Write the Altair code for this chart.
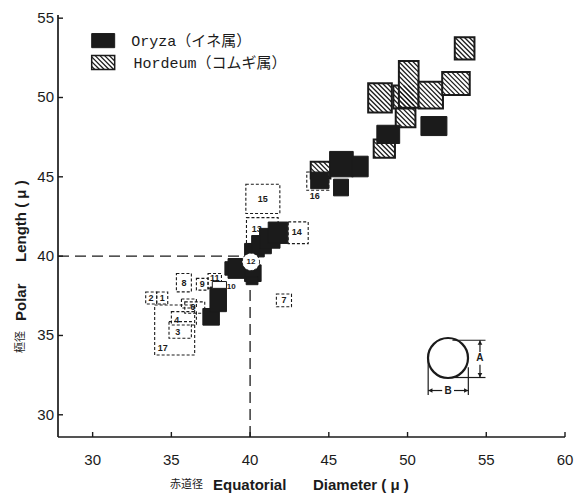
import altair as alt
import numpy as np
import pandas as pd

INK = "#1b1b1b"
SANS = "Liberation Sans, DejaVu Sans, sans-serif"
MONO = "Liberation Mono, DejaVu Sans Mono, Noto Sans CJK JP, monospace"
CJK = "Noto Sans CJK JP, sans-serif"

# ---------------- data ----------------
# Oryza (black boxes): equatorial range (x1..x2), polar range (y1..y2)
oryza_x1 = [37.0, 37.45, 38.4, 38.6, 39.65, 39.75, 39.65, 40.1, 40.6, 41.15, 43.85, 45.05, 46.45, 45.3, 48.05, 50.85]
oryza_x2 = [38.05, 38.5, 39.45, 39.85, 40.7, 40.5, 40.9, 41.35, 41.9, 42.4, 45.0, 46.55, 47.5, 46.25, 49.5, 52.5]
oryza_y1 = [35.65, 36.5, 38.8, 38.6, 38.4, 38.2, 39.95, 40.15, 40.5, 40.8, 44.25, 45.0, 45.0, 43.8, 47.1, 47.6]
oryza_y2 = [36.7, 38.05, 39.65, 39.85, 39.45, 38.7, 40.8, 41.3, 41.75, 42.15, 45.3, 46.6, 46.3, 44.85, 48.25, 48.8]

# Hordeum (hatched boxes)
hord_x1 = [43.85, 47.5, 49.1, 49.25, 49.45, 50.7, 52.2, 53.0, 47.85]
hord_x2 = [45.1, 49.0, 50.4, 50.5, 50.7, 52.25, 53.95, 54.25, 49.2]
hord_y1 = [44.9, 49.05, 49.3, 48.13, 49.35, 49.3, 50.15, 52.4, 46.2]
hord_y2 = [45.95, 50.9, 50.75, 49.3, 52.3, 51.0, 51.6, 53.8, 47.35]

# Numbered reference boxes (dashed)
box_label = ["2", "1", "17", "4", "3", "", "6", "8", "9", "11", "7", "13", "14", "15", "16"]
box_x1 = [33.37, 34.07, 33.94, 35.0, 34.85, 35.64, 35.85, 35.32, 36.59, 37.33, 41.67, 39.77, 42.42, 39.73, 43.6]
box_x2 = [34.07, 34.77, 36.48, 36.59, 36.27, 36.59, 37.12, 36.27, 37.33, 38.18, 42.63, 41.78, 43.69, 41.89, 45.0]
box_y1 = [36.98, 36.98, 33.77, 35.66, 34.82, 36.73, 36.4, 37.75, 37.86, 37.97, 36.81, 40.79, 40.79, 42.69, 44.15]
box_y2 = [37.74, 37.74, 36.92, 36.5, 35.87, 37.3, 37.12, 38.91, 38.6, 38.91, 37.61, 42.43, 42.16, 44.53, 45.3]
label_x = [33.7, 34.42, 34.45, 35.34, 35.4, 36.1, 36.36, 35.8, 36.96, 37.76, 42.15, 40.43, 42.97, 40.81, 44.11]
label_y = [37.36, 37.36, 34.2, 35.97, 35.22, 37.0, 36.79, 38.33, 38.23, 38.6, 37.21, 41.7, 41.5, 43.61, 43.77]

x_ticks = [30, 35, 40, 45, 50, 55, 60]
y_ticks = [30, 35, 40, 45, 50, 55]
legend_labels = ["Oryza（イネ属）", "Hordeum（コムギ属）"]

# ---------------- layout ----------------
X_DOMAIN = [27.8, 60]
Y_DOMAIN = [28.6, 55.2]
W, H = 507, 422
xs = alt.Scale(domain=X_DOMAIN, nice=False, zero=False)
ys = alt.Scale(domain=Y_DOMAIN, nice=False, zero=False)

oryza = pd.DataFrame({"x1": oryza_x1, "x2": oryza_x2, "y1": oryza_y1, "y2": oryza_y2})
hord = pd.DataFrame({"x1": hord_x1, "x2": hord_x2, "y1": hord_y1, "y2": hord_y2})
boxes = pd.DataFrame({"x1": box_x1, "x2": box_x2, "y1": box_y1, "y2": box_y2,
                      "lab": box_label, "lx": label_x, "ly": label_y})

# legend swatches (data units)
leg = pd.DataFrame({"x1": [29.94, 29.94], "x2": [31.4, 31.4], "y1": [53.14, 51.76],
                    "y2": [54.03, 52.64], "kind": ["o", "h"],
                    "tx": [32.45, 32.6], "ty": [53.59, 52.2], "t": legend_labels})


def hatch(rects, d=0.3):
    segs = []
    for x1, x2, y1, y2 in rects:
        k0 = int(np.ceil((x1 + y1) / d))
        k1 = int(np.floor((x2 + y2) / d))
        for k in range(k0, k1 + 1):
            c = k * d
            xa = max(x1, c - y2)
            xb = min(x2, c - y1)
            if xb - xa > 0.02:
                segs.append({"x": xa, "y": c - xa, "x2": xb, "y2": c - xb})
    return pd.DataFrame(segs)


legh = leg[leg.kind == "h"]
hatch_rects = list(zip(hord_x1, hord_x2, hord_y1, hord_y2)) + \
    list(zip(legh.x1, legh.x2, legh.y1, legh.y2))
hatch_df = hatch(hatch_rects)


def X(f):
    return alt.X(f, type="quantitative", scale=xs, axis=None)


def Y(f):
    return alt.Y(f, type="quantitative", scale=ys, axis=None)


# reference dashed lines at 40 / 40
ref = pd.DataFrame({"x": [X_DOMAIN[0], 40.0], "x2": [39.6, 40.0], "y": [40.0, Y_DOMAIN[0]], "y2": [40.0, 38.3]})
ref_layer = alt.Chart(ref).mark_rule(color=INK, strokeWidth=1.3, strokeDash=[11, 6]).encode(
    x=X("x"), x2="x2", y=Y("y"), y2="y2")

# axis lines, inward ticks and tick labels
axis_df = pd.DataFrame({"v": [0]})
x_line = alt.Chart(axis_df).mark_rule(color=INK, strokeWidth=1.7).encode(
    x=alt.value(0), x2=alt.value(W), y=alt.value(H))
y_line = alt.Chart(axis_df).mark_rule(color=INK, strokeWidth=1.7).encode(
    x=alt.value(0), y=alt.value(0), y2=alt.value(H))
xt = alt.Chart(pd.DataFrame({"v": x_ticks})).mark_rule(color=INK, strokeWidth=1.4).encode(
    x=X("v"), y=alt.value(H), y2=alt.value(H - 5))
yt = alt.Chart(pd.DataFrame({"v": y_ticks})).mark_rule(color=INK, strokeWidth=1.4).encode(
    y=Y("v"), x=alt.value(0), x2=alt.value(5))
xl = alt.Chart(pd.DataFrame({"v": x_ticks})).mark_text(
    font=SANS, fontSize=15, color=INK, baseline="middle", align="center").encode(
    x=X("v"), y=alt.value(H + 23), text=alt.Text("v:Q", format="d"))
yl = alt.Chart(pd.DataFrame({"v": y_ticks})).mark_text(
    font=SANS, fontSize=15, color=INK, baseline="middle", align="right").encode(
    y=Y("v"), x=alt.value(-4), text=alt.Text("v:Q", format="d"))

box_layer = alt.Chart(boxes).mark_rect(fill="white", fillOpacity=0, stroke=INK, strokeWidth=1.1,
                                       strokeDash=[3, 2]).encode(
    x=X("x1"), x2="x2", y=Y("y1"), y2="y2")
box_text = alt.Chart(boxes).mark_text(font=SANS, fontSize=9, fontWeight="bold", color=INK).encode(
    x=X("lx"), y=Y("ly"), text="lab:N")

hord_layer = alt.Chart(hord).mark_rect(fill="white", stroke=INK, strokeWidth=2).encode(
    x=X("x1"), x2="x2", y=Y("y1"), y2="y2")
leg_h = alt.Chart(legh).mark_rect(fill="white", stroke=INK, strokeWidth=1.5).encode(
    x=X("x1"), x2="x2", y=Y("y1"), y2="y2")
hatch_layer = alt.Chart(hatch_df).mark_rule(color=INK, strokeWidth=1.3).encode(
    x=X("x"), x2="x2", y=Y("y"), y2="y2")
oryza_layer = alt.Chart(oryza).mark_rect(fill=INK, stroke=INK, strokeWidth=1).encode(
    x=X("x1"), x2="x2", y=Y("y1"), y2="y2")

# small marks "10" and "12"
white_box = alt.Chart(pd.DataFrame({"x1": [37.6], "x2": [38.5], "y1": [37.97], "y2": [38.4]})).mark_rect(
    fill="white", stroke=INK, strokeWidth=1).encode(x=X("x1"), x2="x2", y=Y("y1"), y2="y2")
circ12 = alt.Chart(pd.DataFrame({"x": [40.05], "y": [39.64]})).mark_point(
    shape="circle", size=300, filled=True, fill="white", stroke=INK, strokeWidth=1,
    strokeDash=[2, 2], opacity=1).encode(x=X("x"), y=Y("y"))
small_txt = alt.Chart(pd.DataFrame({"x": [40.05, 38.8], "y": [39.64, 38.05], "t": ["12", "10"]})).mark_text(
    font=SANS, fontSize=8, fontWeight="bold", color=INK).encode(x=X("x"), y=Y("y"), text="t:N")

# legend
leg_o = alt.Chart(leg[leg.kind == "o"]).mark_rect(fill=INK, stroke=INK).encode(
    x=X("x1"), x2="x2", y=Y("y1"), y2="y2")
leg_t = alt.Chart(leg).mark_text(font=MONO, fontSize=15, align="left", baseline="middle", color=INK).encode(
    x=X("tx"), y=Y("ty"), text="t:N")

# inset diagram (pollen grain with A / B dimensions)
circle = alt.Chart(pd.DataFrame({"x": [52.57], "y": [33.58]})).mark_point(
    shape="circle", size=1600, filled=False, color=INK, strokeWidth=2.2, opacity=1).encode(x=X("x"), y=Y("y"))
dims = pd.DataFrame({
    "x":  [52.85, 53.0, 54.6, 54.6, 51.31, 53.86, 51.31, 52.95],
    "x2": [54.95, 54.95, 54.6, 54.6, 51.31, 53.86, 52.2, 53.86],
    "y":  [34.7, 32.35, 34.7, 33.15, 33.58, 33.0, 31.53, 31.53],
    "y2": [34.7, 32.35, 33.95, 32.35, 31.25, 31.25, 31.53, 31.53]})
dim_layer = alt.Chart(dims).mark_rule(color=INK, strokeWidth=1.2).encode(
    x=X("x"), x2="x2", y=Y("y"), y2="y2")
arrows = alt.Chart(pd.DataFrame({"x": [54.6, 54.6, 51.45, 53.72], "y": [34.55, 32.5, 31.53, 31.53],
                                 "s": ["triangle-up", "triangle-down", "triangle-left", "triangle-right"]})).mark_point(
    filled=True, size=22, color=INK, opacity=1).encode(
    x=X("x"), y=Y("y"), shape=alt.Shape("s:N", scale=None, legend=None))
dim_txt = alt.Chart(pd.DataFrame({"x": [54.6, 52.58], "y": [33.55, 31.53], "t": ["A", "B"]})).mark_text(
    font=SANS, fontSize=10, fontWeight="bold", color=INK).encode(x=X("x"), y=Y("y"), text="t:N")


def label(txt, px, py, size, font=SANS, weight="bold", angle=0):
    kw = dict(font=font, fontSize=size, fontWeight=weight, color=INK, align="left", baseline="middle")
    if angle:
        kw["angle"] = angle
    return alt.Chart(pd.DataFrame({"t": [txt]})).mark_text(**kw).encode(
        text="t:N", x=alt.value(px), y=alt.value(py))


titles = [
    label("赤道径", 112, 470, 11, font=CJK, weight="normal"),
    label("Equatorial", 155, 470, 15),
    label("Diameter ( μ )", 255, 470, 15),
    label("極径", -37, 338, 11, font=CJK, weight="normal", angle=270),
    label("Polar", -37, 306, 15, angle=270),
    label("Length ( μ )", -37, 247, 15, angle=270),
]

chart = alt.layer(
    ref_layer, x_line, y_line, xt, yt, xl, yl, box_layer, hord_layer, leg_h, hatch_layer, oryza_layer,
    white_box, circ12, small_txt, box_text,
    leg_o, leg_t, circle, dim_layer, arrows, dim_txt, *titles
).properties(
    width=W, height=H,
    background="white",
    autosize=alt.AutoSizeParams(type="none"),
    padding={"left": 58, "top": 15, "right": 13, "bottom": 58},
).configure_view(stroke=None)

chart.save("out.html", embed_options={"renderer": "svg", "actions": False})
